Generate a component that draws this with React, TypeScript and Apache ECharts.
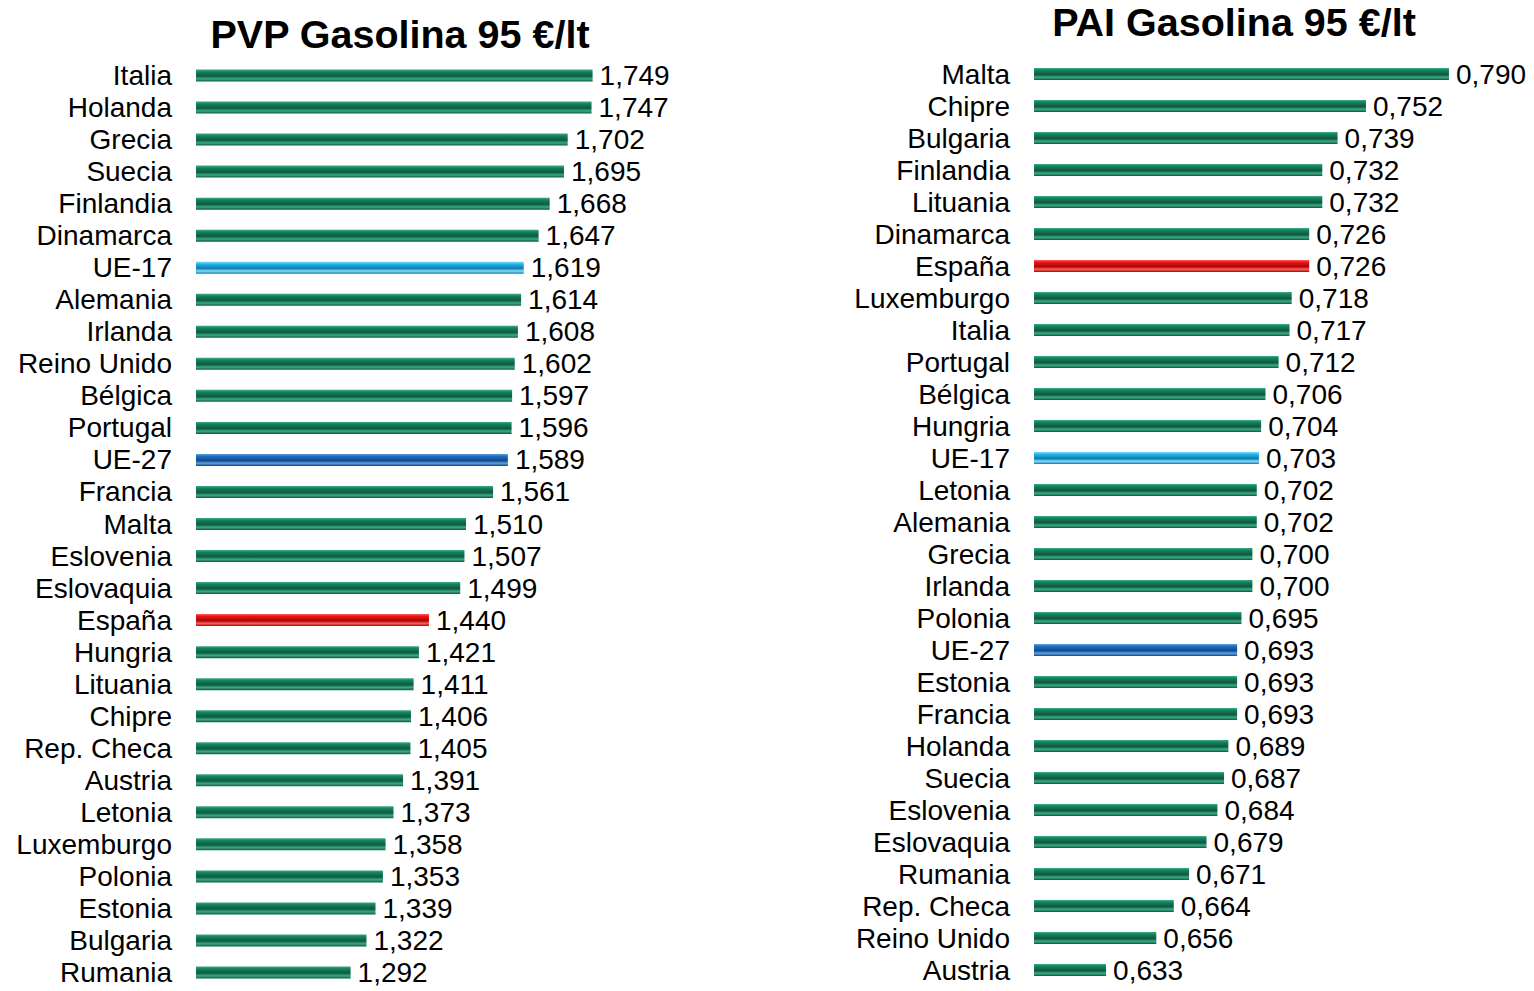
import React, { useEffect, useRef } from "react";
import * as echarts from "echarts";

const pvpCategories = ["Italia", "Holanda", "Grecia", "Suecia", "Finlandia", "Dinamarca", "UE-17", "Alemania", "Irlanda", "Reino Unido", "Bélgica", "Portugal", "UE-27", "Francia", "Malta", "Eslovenia", "Eslovaquia", "España", "Hungria", "Lituania", "Chipre", "Rep. Checa", "Austria", "Letonia", "Luxemburgo", "Polonia", "Estonia", "Bulgaria", "Rumania"];
const pvpValues = [1.749, 1.747, 1.702, 1.695, 1.668, 1.647, 1.619, 1.614, 1.608, 1.602, 1.597, 1.596, 1.589, 1.561, 1.510, 1.507, 1.499, 1.440, 1.421, 1.411, 1.406, 1.405, 1.391, 1.373, 1.358, 1.353, 1.339, 1.322, 1.292];

const paiCategories = ["Malta", "Chipre", "Bulgaria", "Finlandia", "Lituania", "Dinamarca", "España", "Luxemburgo", "Italia", "Portugal", "Bélgica", "Hungria", "UE-17", "Letonia", "Alemania", "Grecia", "Irlanda", "Polonia", "UE-27", "Estonia", "Francia", "Holanda", "Suecia", "Eslovenia", "Eslovaquia", "Rumania", "Rep. Checa", "Reino Unido", "Austria"];
const paiValues = [0.790, 0.752, 0.739, 0.732, 0.732, 0.726, 0.726, 0.718, 0.717, 0.712, 0.706, 0.704, 0.703, 0.702, 0.702, 0.700, 0.700, 0.695, 0.693, 0.693, 0.693, 0.689, 0.687, 0.684, 0.679, 0.671, 0.664, 0.656, 0.633];

const grad = (light: string, mid: string, dark: string) =>
  new echarts.graphic.LinearGradient(0, 0, 0, 1, [
    { offset: 0, color: light },
    { offset: 0.2, color: mid },
    { offset: 0.55, color: dark },
    { offset: 0.78, color: light },
    { offset: 1, color: dark },
  ]);

const colorFor = (name: string) => {
  if (name === "España") return grad("#ff5a5a", "#e81212", "#a80808");
  if (name === "UE-17") return grad("#7fdcff", "#22b5ec", "#127aa8");
  if (name === "UE-27") return grad("#5aa0e0", "#1f6fc0", "#124a8a");
  return grad("#3aa886", "#15805e", "#0c5a42");
};

const fmt = (v: number) => v.toFixed(3).replace(".", ",");

export default function App() {
  const ref = useRef<HTMLDivElement>(null);
  useEffect(() => {
    if (!ref.current) return;
    const chart = echarts.init(ref.current, null, { renderer: "svg" });
    const font = "'Liberation Sans', Arial, sans-serif";
    const fs = 28;
    const mkData = (cats: string[], vals: number[]) =>
      vals.map((v, i) => ({ value: v, itemStyle: { color: colorFor(cats[i]) } }));
    const yAxisBase = {
      type: "category", inverse: true, axisLine: { show: false }, axisTick: { show: false },
      axisLabel: { interval: 0, margin: 24, fontFamily: font, fontSize: fs, color: "#000", padding: [3, 0, 0, 0] },
    };
    const labelBase = { show: true, position: "right", distance: 7, fontFamily: font, fontSize: fs, color: "#000", padding: [3, 0, 0, 0], formatter: (p: any) => fmt(p.value) };
    chart.setOption({
      animation: false,
      backgroundColor: "#ffffff",
      title: [
        { text: "PVP Gasolina 95 €/lt", left: 395, top: 9, textAlign: "center", textStyle: { fontFamily: font, fontSize: 39.5, fontWeight: "bold", color: "#000" } },
        { text: "PAI Gasolina 95 €/lt", left: 1229, top: -3, textAlign: "center", textStyle: { fontFamily: font, fontSize: 39.5, fontWeight: "bold", color: "#000" } },
      ],
      grid: [
        { left: 196, top: 59.5, width: 529.5, height: 929 },
        { left: 1034, top: 58, width: 436.8, height: 928 },
      ],
      xAxis: [
        { gridIndex: 0, type: "value", min: 1.0, max: 2.0, show: false },
        { gridIndex: 1, type: "value", min: 0.6, max: 0.8, show: false },
      ],
      yAxis: [
        { ...yAxisBase, gridIndex: 0, data: pvpCategories },
        { ...yAxisBase, gridIndex: 1, data: paiCategories },
      ],
      series: [
        { type: "bar", xAxisIndex: 0, yAxisIndex: 0, barWidth: 12, data: mkData(pvpCategories, pvpValues), label: labelBase },
        { type: "bar", xAxisIndex: 1, yAxisIndex: 1, barWidth: 12, data: mkData(paiCategories, paiValues), label: labelBase },
      ],
    });
    return () => chart.dispose();
  }, []);
  return <div ref={ref} style={{ position: "fixed", left: 0, top: 0, width: 1534, height: 991 }} />;
}
